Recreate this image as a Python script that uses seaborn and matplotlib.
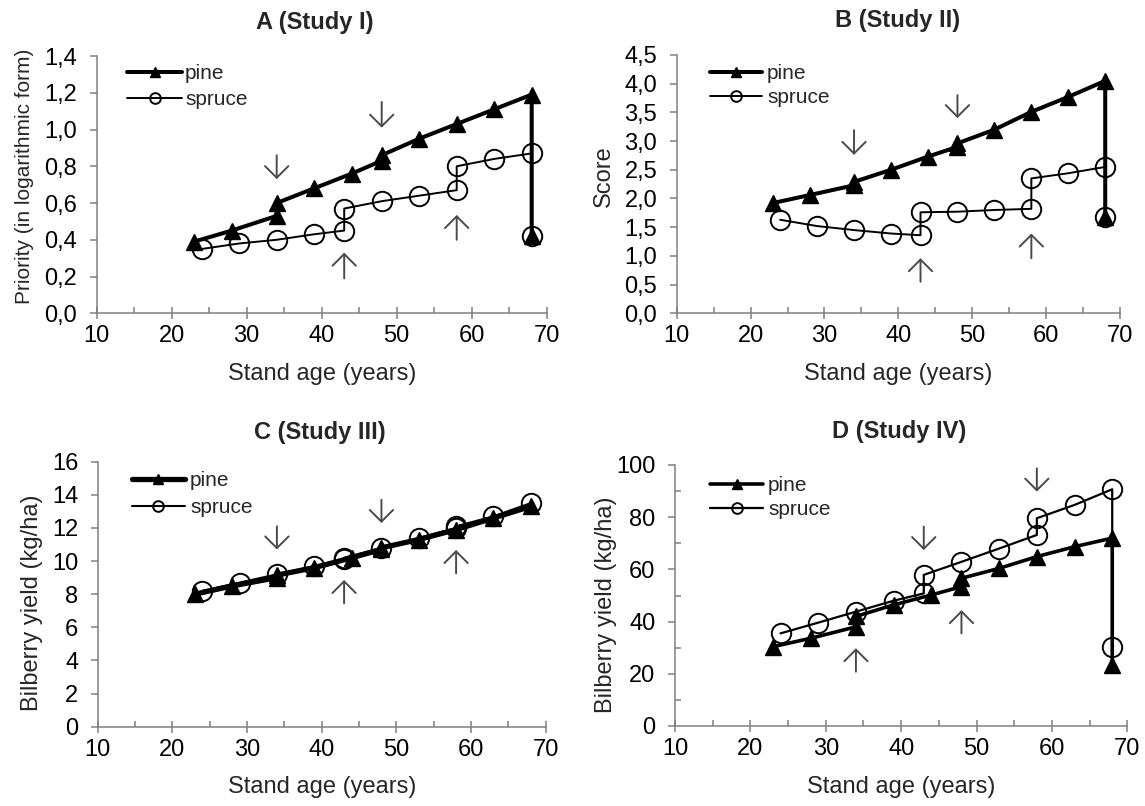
import numpy as np
import pandas as pd
import matplotlib
matplotlib.use("Agg")
import matplotlib.pyplot as plt
from matplotlib.ticker import FuncFormatter, MultipleLocator
import seaborn as sns

sns.set_style("white")
plt.rcParams['font.family'] = ['Liberation Sans', 'DejaVu Sans']

# ---------------- data ----------------
titles = ["A (Study I)", "B (Study II)", "C (Study III)", "D (Study IV)"]
ylabels = ["Priority (in logarithmic form)", "Score",
           "Bilberry yield (kg/ha)", "Bilberry yield (kg/ha)"]
xlabel = "Stand age (years)"

# Panel A
a_pine_x = [23, 28, 34, 34, 39, 44, 48, 48, 53, 58, 63, 68, 68]
a_pine_y = [0.39, 0.45, 0.53, 0.60, 0.68, 0.76, 0.83, 0.86, 0.95, 1.03, 1.11, 1.19, 0.42]
a_spruce_x = [24, 29, 34, 39, 43, 43, 48, 53, 58, 58, 63, 68, 68]
a_spruce_y = [0.35, 0.38, 0.40, 0.43, 0.45, 0.57, 0.61, 0.64, 0.67, 0.80, 0.84, 0.87, 0.42]

# Panel B
b_pine_x = [23, 28, 34, 34, 39, 44, 48, 48, 53, 58, 63, 68, 68]
b_pine_y = [1.92, 2.06, 2.23, 2.29, 2.50, 2.73, 2.90, 2.96, 3.20, 3.51, 3.77, 4.05, 1.67]
b_spruce_x = [24, 29, 34, 39, 43, 43, 48, 53, 58, 58, 63, 68, 68]
b_spruce_y = [1.63, 1.52, 1.45, 1.39, 1.36, 1.76, 1.77, 1.80, 1.82, 2.35, 2.44, 2.55, 1.68]

# Panel C
c_pine_x = [23, 28, 34, 34, 39, 44, 48, 48, 53, 58, 63, 68]
c_pine_y = [8.0, 8.5, 9.0, 9.15, 9.6, 10.2, 10.7, 10.8, 11.3, 11.9, 12.6, 13.3]
c_spruce_x = [24, 29, 34, 39, 43, 43, 48, 53, 58, 58, 63, 68]
c_spruce_y = [8.2, 8.7, 9.2, 9.7, 10.1, 10.2, 10.8, 11.4, 12.0, 12.1, 12.7, 13.5]

# Panel D
d_pine_x = [23, 28, 34, 34, 39, 44, 48, 48, 53, 58, 63, 68, 68]
d_pine_y = [30.4, 33.6, 38.0, 42.0, 46.4, 50.2, 53.4, 56.6, 60.4, 64.9, 68.7, 72.0, 23.5]
d_spruce_x = [24, 29, 34, 39, 43, 43, 48, 53, 58, 58, 63, 68, 68]
d_spruce_y = [35.5, 39.6, 43.8, 48.0, 50.8, 57.9, 62.9, 68.0, 73.2, 79.6, 84.7, 90.7, 30.4]

# arrows: (x, tail y, tip y)
a_arrows = [(34, 0.86, 0.73), (48, 1.15, 1.01), (43, 0.19, 0.33), (58, 0.40, 0.535)]
b_arrows = [(34, 3.19, 2.76), (48, 3.80, 3.40), (43, 0.55, 0.96), (58, 0.96, 1.39)]
c_arrows = [(34, 12.1, 10.7), (48, 13.7, 12.3), (43, 7.45, 8.86), (58, 9.26, 10.67)]
d_arrows = [(43, 76.4, 67.4), (58, 98.7, 89.8), (34, 20.8, 29.8), (48, 35.5, 44.4)]

y_max = [1.4, 4.5, 16, 100]
y_step = [0.2, 0.5, 2, 20]
y_minor = [None, None, None, 10]
y_decimals = [1, 1, 0, 0]

# ---------------- layout ----------------
W, H = 1145, 806
fig = plt.figure(figsize=(W / 100, H / 100), dpi=100)

# axes boxes in pixels (left, top, right, bottom)
boxes = [(96.7, 56, 546.7, 313.3), (676.7, 55, 1120, 313.3),
         (97.7, 461.7, 545.7, 726.7), (675, 465, 1127.3, 726)]

panels = [
    (a_pine_x, a_pine_y, a_spruce_x, a_spruce_y, a_arrows),
    (b_pine_x, b_pine_y, b_spruce_x, b_spruce_y, b_arrows),
    (c_pine_x, c_pine_y, c_spruce_x, c_spruce_y, c_arrows),
    (d_pine_x, d_pine_y, d_spruce_x, d_spruce_y, d_arrows),
]

pine_lw = [2.9, 2.9, 3.8, 2.6]
spruce_lw = [1.4, 1.4, 1.5, 1.6]
ylabel_size = [15, 17, 17, 17]
ylabel_right_px = [34, 615, 43, 617]
ylabel_center_px = [176, 176, 602.5, 605]
title_center_px = [(315, 22), (898, 21), (320, 432), (899, 432)]
legend_px = [(127, 86.7, 0.32, 2.64, 0.15), (710, 85.8, 0.25, 2.5, 0.24),
             (131.7, 494.2, 0.40, 2.56, 0.24), (710, 497.5, 0.25, 2.55, 0.24)]

gray = '#808080'

for i, (px, py, sx, sy, arrows) in enumerate(panels):
    l, t, r, b = boxes[i]
    ax = fig.add_axes([l / W, 1 - b / H, (r - l) / W, (b - t) / H])

    sns.lineplot(x=px, y=py, sort=False, estimator=None, ax=ax,
                 color='black', lw=pine_lw[i], marker='^', ms=12,
                 mfc='black', mec='black', mew=1.0, label='pine')
    sns.lineplot(x=sx, y=sy, sort=False, estimator=None, ax=ax,
                 color='black', lw=spruce_lw[i], marker='o', ms=14,
                 mfc='none', mec='black', mew=1.4, label='spruce')

    for (ax_x, y0, y1) in arrows:
        ax.annotate('', xy=(ax_x, y1), xytext=(ax_x, y0),
                    arrowprops=dict(arrowstyle='->,head_length=0.6,head_width=0.6',
                                    color='#4a4a4a', lw=1.4, shrinkA=0, shrinkB=0,
                                    mutation_scale=14))

    ax.set_xlim(10, 70)
    ax.set_ylim(0, y_max[i])
    ax.xaxis.set_major_locator(MultipleLocator(10))
    ax.xaxis.set_minor_locator(MultipleLocator(5))
    ax.yaxis.set_major_locator(MultipleLocator(y_step[i]))
    if y_minor[i]:
        ax.yaxis.set_minor_locator(MultipleLocator(y_minor[i]))
    dec = y_decimals[i]
    ax.yaxis.set_major_formatter(FuncFormatter(
        lambda v, p, d=dec: f"{v:.{d}f}".replace('.', ',')))
    ax.xaxis.set_major_formatter(FuncFormatter(lambda v, p: f"{v:.0f}"))

    for s in ['top', 'right']:
        ax.spines[s].set_visible(False)
    for s in ['left', 'bottom']:
        ax.spines[s].set_color(gray)
        ax.spines[s].set_linewidth(1.1)

    ax.tick_params(axis='x', which='major', direction='inout', length=9,
                   width=1.1, color=gray, labelsize=17, pad=4, labelcolor='black')
    ax.tick_params(axis='x', which='minor', direction='in', length=4,
                   width=1.1, color=gray)
    ax.tick_params(axis='y', which='major', direction='out', length=5,
                   width=1.1, color=gray, labelsize=17, pad=9, labelcolor='black')
    ax.tick_params(axis='y', which='minor', direction='in', length=4,
                   width=1.1, color=gray)
    ax.tick_params(left=True, bottom=True)
    ax.tick_params(which='minor', left=True, bottom=True)

    # labels
    ax.set_xlabel(xlabel, fontsize=17)
    ax.xaxis.set_label_coords(0.5, (b - (b + 49.7)) / (b - t))
    ax.set_ylabel(ylabels[i], fontsize=ylabel_size[i])
    ax.yaxis.set_label_coords((ylabel_right_px[i] - l) / (r - l),
                              (b - ylabel_center_px[i]) / (b - t))

    tx, ty = title_center_px[i]
    ax.text((tx - l) / (r - l), (b - ty) / (b - t), titles[i],
            transform=ax.transAxes, ha='center', va='center',
            fontsize=17, fontweight='bold')

    lx, ly, lsp, hl, htp = legend_px[i]
    ax.legend(loc='center left', bbox_to_anchor=(lx / W, 1 - ly / H),
              bbox_transform=fig.transFigure, frameon=False, fontsize=15,
              borderpad=0, borderaxespad=0, labelspacing=lsp,
              handlelength=hl, handletextpad=htp, markerscale=0.55)

fig.savefig("out.png", dpi=100)
